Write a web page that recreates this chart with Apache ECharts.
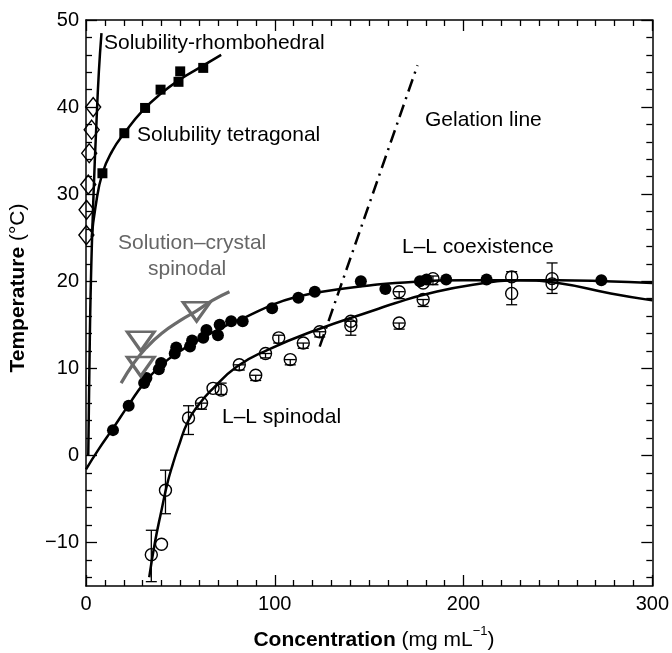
<!DOCTYPE html>
<html>
<head>
<meta charset="utf-8">
<script src="https://cdn.jsdelivr.net/npm/echarts@6/dist/echarts.min.js"></script>
<style>html,body{margin:0;padding:0;background:#fff}#c{width:672px;height:653px}</style>
</head>
<body>
<div id="c"></div>
<script>
// ---- tick labels ----
const xLabelValues = [0, 100, 200, 300];
const yLabelValues = [-10, 0, 10, 20, 30, 40, 50];
const yMinorValues = [-14, -12, -8, -6, -4, -2, 2, 4, 6, 8, 12, 14, 16, 18, 22, 24, 26, 28, 32, 34, 36, 38, 42, 44, 46, 48];

// ---- Solubility rhombohedral (open diamonds + curve) ----
const rhombX = [3.8, 3.0, 1.7, 1.2, 0.3, 0.2];
const rhombY = [40.0, 37.4, 34.7, 31.1, 28.2, 25.3];
const rhombCurveX = [1.2, 1.8, 2.6, 4.0, 5.5, 6.8, 8.2];
const rhombCurveY = [0, 10, 20, 30, 38, 44, 48.5];

// ---- Solubility tetragonal (filled squares + curve) ----
const tetX = [8.7, 20.3, 31.3, 39.5, 49.0, 49.9, 62.1];
const tetY = [32.4, 37.0, 39.9, 42.0, 42.9, 44.1, 44.5];
const tetCurveX = [3, 5, 8.7, 14, 20.3, 30, 40, 50, 60, 71.6];
const tetCurveY = [25, 28.5, 32.4, 35, 37, 39.6, 41.6, 43.2, 44.5, 46];

// ---- L-L coexistence (filled circles + curve) ----
const coexX = [14.3, 22.6, 30.8, 32.0, 38.6, 39.8, 47.0, 47.8, 55.1, 56.2, 62.1, 63.8, 69.9, 70.8, 76.9, 83.0, 98.6, 112.5, 121.2, 145.6, 158.6, 176.9, 180.4, 190.8, 212.2, 273.0];
const coexY = [2.9, 5.7, 8.3, 8.9, 9.9, 10.6, 11.7, 12.4, 12.5, 13.2, 13.5, 14.4, 13.8, 15.0, 15.4, 15.4, 16.9, 18.1, 18.8, 20.0, 19.1, 20.0, 20.2, 20.2, 20.2, 20.1];
const coexCurveX = [0, 6.4, 14.3, 22.6, 30.8, 40, 50, 60, 75, 83.8, 100, 111.6, 125, 150, 163.8, 200, 225, 250, 275, 300];
const coexCurveY = [-1.6, 0.6, 3.1, 5.8, 8.3, 10.4, 12.0, 13.3, 15.0, 15.8, 17.4, 18.2, 18.8, 19.5, 19.8, 20.1, 20.1, 20.1, 20.0, 19.8];

// ---- L-L spinodal (open circles with error bars + curve) ----
const spinX = [34.6, 40.0, 42.1, 54.3, 61.2, 67.3, 71.6, 81.2, 89.9, 95.1, 102.1, 108.2, 115.1, 123.8, 140.3, 140.3, 165.9, 165.9, 178.6, 178.6, 183.8, 225.5, 225.5, 246.9, 246.9];
const spinY = [-11.4, -10.2, -4.0, 4.3, 6.0, 7.7, 7.5, 10.4, 9.2, 11.7, 13.5, 11.0, 12.9, 14.2, 15.4, 14.9, 18.8, 15.2, 19.8, 17.9, 20.3, 20.5, 18.6, 20.3, 19.7];
const errX  = [34.6, 42.1, 54.3, 61.2, 71.6, 81.2, 89.9, 95.1, 102.1, 108.2, 115.1, 123.8, 140.3, 165.9, 165.9, 178.6, 183.8, 225.5, 246.9];
const errLo = [-14.5, -6.7, 2.4, 5.3, 7.0, 9.8, 8.6, 11.2, 12.9, 10.4, 12.3, 13.6, 13.8, 18.0, 14.5, 17.1, 19.6, 17.3, 18.6];
const errHi = [-8.6, -1.7, 5.7, 6.0, 8.3, 10.4, 9.2, 11.7, 13.8, 11.0, 12.9, 14.2, 15.4, 18.8, 15.2, 17.9, 20.6, 21.1, 22.1];
const spinCurveX = [33.5, 36.5, 40, 43, 46, 49, 54, 60, 66, 80, 96, 122, 153, 164, 180, 205, 230, 250, 278, 300];
const spinCurveY = [-14, -10, -6.3, -3.3, -1, 1, 3.9, 5.9, 7.4, 10.2, 12.1, 14.4, 16.7, 17.5, 18.5, 19.6, 20.1, 19.8, 18.6, 17.8];

// ---- Solution-crystal spinodal (gray triangles + curve) ----
const scX = [29.0, 29.0, 58.6];
const scY = [13.1, 10.2, 16.5];
const scCurveX = [18.6, 25, 31.7, 40, 50, 58.6, 67, 76];
const scCurveY = [8.3, 10.5, 12.3, 14.0, 15.5, 16.6, 17.8, 18.8];

// ---- Gelation line ----
const gelX = [123.8, 175.6];
const gelY = [12.5, 44.8];

const FONT = '"Liberation Sans", Arial, Helvetica, sans-serif';
const zip = (a, b) => a.map((v, i) => [v, b[i]]);
const fmt = v => (v < 0 ? '\u2212' + Math.abs(v) : String(v));

const chart = echarts.init(document.getElementById('c'), null, {renderer: 'canvas'});

const axLine = {show: true, onZero: false, lineStyle: {color: '#000', width: 1.5}};
const tickStyle = {color: '#000', width: 1.3};

function xAx(pos, labels) {
  return {
    type: 'value', min: 0, max: 300, interval: 100, position: pos,
    axisLine: axLine,
    axisTick: {show: true, inside: true, length: 11, lineStyle: tickStyle},
    minorTick: {show: true, splitNumber: 10, length: 6, lineStyle: tickStyle},
    axisLabel: {show: labels, fontSize: 20, color: '#000', fontFamily: FONT, margin: 8, formatter: fmt},
    splitLine: {show: false}, minorSplitLine: {show: false}
  };
}
function yAx(pos, labels, minor) {
  return {
    type: 'value', min: -15, max: 50, position: pos,
    axisLine: minor ? {show: false, onZero: false} : axLine,
    axisTick: {show: true, inside: true, length: minor ? 6 : 11, lineStyle: tickStyle,
      customValues: minor ? yMinorValues : yLabelValues},
    axisLabel: {show: labels, customValues: yLabelValues, fontSize: 20, color: '#000', fontFamily: FONT, margin: 7, formatter: fmt},
    splitLine: {show: false}
  };
}

const lineBase = {type: 'line', smooth: true, showSymbol: false, symbol: 'none', clip: true,
  xAxisIndex: 0, yAxisIndex: 0, silent: true};

const option = {
  animation: false,
  backgroundColor: '#fff',
  grid: {left: 86, right: 11, top: 20, bottom: 67, containLabel: false},
  xAxis: [xAx('bottom', true), xAx('top', false)],
  yAxis: [yAx('left', true, false), yAx('left', false, true), yAx('right', false, false), yAx('right', false, true)],
  series: [
    Object.assign({}, lineBase, {data: zip(rhombCurveX, rhombCurveY), lineStyle: {color: '#000', width: 2.5}}),
    Object.assign({}, lineBase, {data: zip(tetCurveX, tetCurveY), lineStyle: {color: '#000', width: 2.5}}),
    Object.assign({}, lineBase, {data: zip(coexCurveX, coexCurveY), lineStyle: {color: '#000', width: 2.5}}),
    Object.assign({}, lineBase, {data: zip(spinCurveX, spinCurveY), lineStyle: {color: '#000', width: 2.5}}),
    Object.assign({}, lineBase, {data: zip(scCurveX, scCurveY), lineStyle: {color: '#6b6b6b', width: 3.2}}),
    Object.assign({}, lineBase, {smooth: false, data: zip(gelX, gelY), lineStyle: {color: '#000', width: 2.5, type: [13, 6, 2, 6]}}),
    {
      type: 'custom', xAxisIndex: 0, yAxisIndex: 0, clip: false,
      data: errX.map((x, i) => [x, errLo[i], errHi[i]]),
      encode: {x: 0, y: [1, 2]},
      renderItem: function (params, api) {
        const x = api.value(0), lo = api.value(1), hi = api.value(2);
        const p1 = api.coord([x, lo]), p2 = api.coord([x, hi]);
        const w = 5.5, st = {stroke: '#000', lineWidth: 1.3};
        return {type: 'group', children: [
          {type: 'line', shape: {x1: p1[0], y1: p1[1], x2: p2[0], y2: p2[1]}, style: st},
          {type: 'line', shape: {x1: p1[0] - w, y1: p1[1], x2: p1[0] + w, y2: p1[1]}, style: st},
          {type: 'line', shape: {x1: p2[0] - w, y1: p2[1], x2: p2[0] + w, y2: p2[1]}, style: st}
        ]};
      }
    },
    {type: 'scatter', clip: false, data: zip(rhombX, rhombY), symbol: 'diamond', symbolSize: [15, 19],
      itemStyle: {color: 'rgba(255,255,255,0)', borderColor: '#000', borderWidth: 1.4, opacity: 1}},
    {type: 'scatter', clip: false, data: zip(tetX, tetY), symbol: 'rect', symbolSize: 10,
      itemStyle: {color: '#000', opacity: 1}},
    {type: 'scatter', clip: false, data: zip(coexX, coexY), symbol: 'circle', symbolSize: 12,
      itemStyle: {color: '#000', opacity: 1}},
    {type: 'scatter', clip: false, data: zip(spinX, spinY), symbol: 'circle', symbolSize: 12,
      itemStyle: {color: 'rgba(255,255,255,0)', borderColor: '#000', borderWidth: 1.4, opacity: 1}},
    {type: 'scatter', clip: false, data: zip(scX, scY), symbol: 'triangle', symbolRotate: 180, symbolSize: [27, 19],
      itemStyle: {color: 'rgba(255,255,255,0)', borderColor: '#6b6b6b', borderWidth: 3, opacity: 1}}
  ],
  graphic: [
    {type: 'text', x: 104, y: 43, style: {text: 'Solubility-rhombohedral', font: '21px ' + FONT, fill: '#000', textVerticalAlign: 'middle', verticalAlign: 'middle'}},
    {type: 'text', x: 137, y: 135, style: {text: 'Solubility tetragonal', font: '21px ' + FONT, fill: '#000', textVerticalAlign: 'middle', verticalAlign: 'middle'}},
    {type: 'text', x: 425, y: 120, style: {text: 'Gelation line', font: '21px ' + FONT, fill: '#000', textVerticalAlign: 'middle', verticalAlign: 'middle'}},
    {type: 'text', x: 118, y: 243, style: {text: 'Solution\u2013crystal', font: '21px ' + FONT, fill: '#666', textVerticalAlign: 'middle', verticalAlign: 'middle'}},
    {type: 'text', x: 148, y: 269, style: {text: 'spinodal', font: '21px ' + FONT, fill: '#666', textVerticalAlign: 'middle', verticalAlign: 'middle'}},
    {type: 'text', x: 402, y: 247, style: {text: 'L\u2013L coexistence', font: '21px ' + FONT, fill: '#000', textVerticalAlign: 'middle', verticalAlign: 'middle'}},
    {type: 'text', x: 222, y: 417, style: {text: 'L\u2013L spinodal', font: '21px ' + FONT, fill: '#000', textVerticalAlign: 'middle', verticalAlign: 'middle'}},
    {type: 'text', x: 374, y: 638, style: {
      text: '{b|Concentration}{n| (mg mL}{s|\u22121}{n|)}',
      textAlign: 'center', align: 'center', textVerticalAlign: 'middle', verticalAlign: 'middle',
      rich: {
        b: {fontSize: 21, fontWeight: 'bold', fontFamily: FONT, fill: '#000', color: '#000', lineHeight: 26, verticalAlign: 'bottom'},
        n: {fontSize: 21, fontFamily: FONT, fill: '#000', color: '#000', lineHeight: 26, verticalAlign: 'bottom'},
        s: {fontSize: 13, fontFamily: FONT, fill: '#000', color: '#000', lineHeight: 26, verticalAlign: 'top'}
      }}},
    {type: 'text', x: 18, y: 288, rotation: Math.PI / 2, style: {
      text: '{b|Temperature}{n| (\u00B0C)}',
      textAlign: 'center', align: 'center', textVerticalAlign: 'middle', verticalAlign: 'middle',
      rich: {
        b: {fontSize: 21, fontWeight: 'bold', fontFamily: FONT, fill: '#000', color: '#000'},
        n: {fontSize: 21, fontFamily: FONT, fill: '#000', color: '#000'}
      }}}
  ]
};
chart.setOption(option);
</script>
</body>
</html>
